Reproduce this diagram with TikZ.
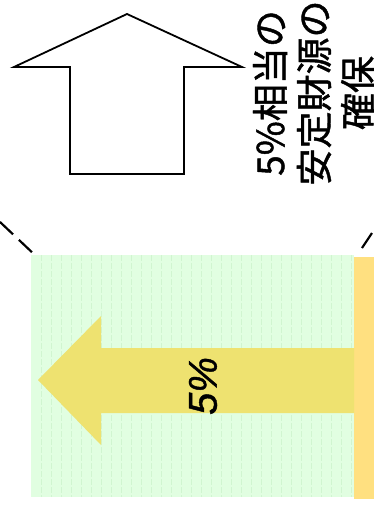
\documentclass[tikz,border=0pt]{standalone}
\usepackage{fontspec}
\newfontfamily\cjk[FakeBold=1.2]{Noto Sans CJK JP}
\newfontfamily\lsans[FakeBold=1]{Liberation Sans}
\definecolor{greenfill}{RGB}{225,254,225}
\definecolor{greenline}{RGB}{208,245,208}
\definecolor{barfill}{RGB}{255,224,128}
\definecolor{arrowfill}{RGB}{238,226,112}
\tikzset{
  outline/.style={draw=black, line width=1.8pt, line join=miter, fill=white},
  guide/.style={draw=black, line width=2.2pt, dash pattern=on 18pt off 8pt},
  lbl/.style={inner sep=0pt, align=center, rotate=90}
}
\begin{document}
\begin{tikzpicture}[x=1pt,y=-1pt]
\useasboundingbox (0,0) rectangle (374,506);
% green region
\fill[greenfill] (31,255) rectangle (354,497);
\foreach \xx in {41,51,...,351}{
  \draw[greenline, line width=0.6pt, dash pattern=on 6pt off 2pt] (\xx,255) -- (\xx,497);
}
% yellow bar
\fill[barfill] (354,257) rectangle (380,499);
% yellow arrow
\fill[arrowfill] (38,380) -- (101,316) -- (101,348) -- (354,348) -- (354,413) -- (101,413) -- (101,445) -- cycle;
\node[lbl, font=\lsans\itshape\fontsize{40}{44}\selectfont] (pct) at (203,386) {5\%};
% up arrow
\path[outline] (127,14) -- (242,67) -- (184,67) -- (184,174) -- (70,174) -- (70,67) -- (14,67) -- cycle;
% label
\node[lbl, font=\cjk\fontsize{37}{44}\selectfont] (goal) at (314,93) {5\%相当の\\安定財源の\\確保};
% dashed guides
\coordinate (la) at (0,222);
\coordinate (lb) at (37,257);
\coordinate (ra) at (362,248);
\coordinate (rb) at (380,221);
\draw[guide] (la) -- (lb);
\draw[guide] (ra) -- (rb);
\end{tikzpicture}
\end{document}
